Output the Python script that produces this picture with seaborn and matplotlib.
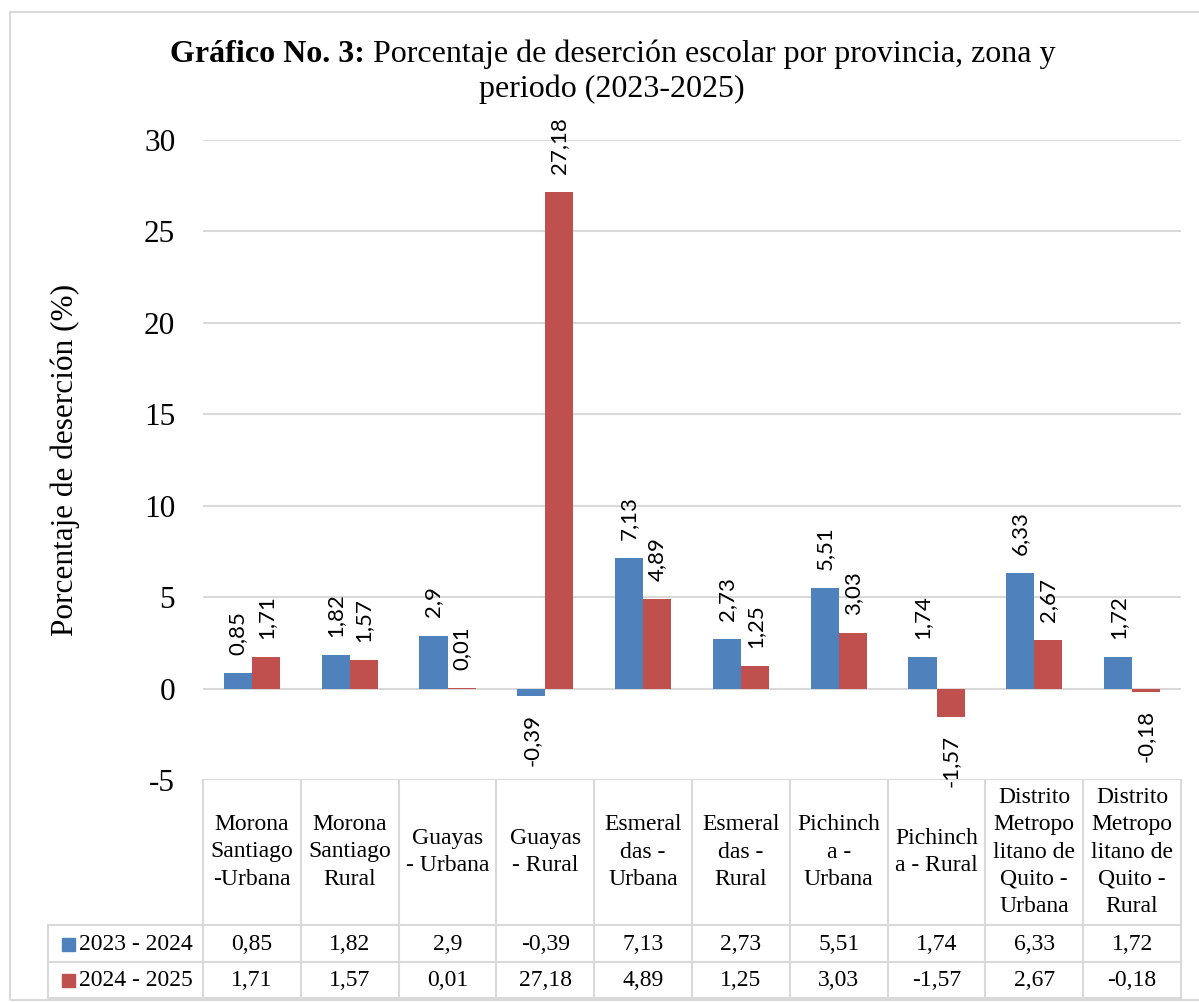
import pandas as pd
import numpy as np
import matplotlib.pyplot as plt
import seaborn as sb
from matplotlib.patches import Rectangle

# Datos del gráfico
categorias = ["Morona\nSantiago\n-Urbana", "Morona\nSantiago\nRural", "Guayas\n- Urbana",
              "Guayas\n- Rural", "Esmeral\ndas -\nUrbana", "Esmeral\ndas -\nRural",
              "Pichinch\na -\nUrbana", "Pichinch\na - Rural",
              "Distrito\nMetropo\nlitano de\nQuito -\nUrbana",
              "Distrito\nMetropo\nlitano de\nQuito -\nRural"]
periodos = ["2023 - 2024", "2024 - 2025"]
valores_2023 = [0.85, 1.82, 2.9, -0.39, 7.13, 2.73, 5.51, 1.74, 6.33, 1.72]
valores_2024 = [1.71, 1.57, 0.01, 27.18, 4.89, 1.25, 3.03, -1.57, 2.67, -0.18]
colores = ["#4F81BD", "#C0504D"]
yticks = [-5, 0, 5, 10, 15, 20, 25, 30]

SERIF = "Liberation Serif"
GRID = "#D9D9D9"


def fmt(v):
    return f"{v:g}".replace(".", ",")


df = pd.DataFrame({
    "cat": categorias * 2,
    "periodo": [periodos[0]] * len(categorias) + [periodos[1]] * len(categorias),
    "valor": valores_2023 + valores_2024,
})

sb.set_style("white")
plt.rcParams["font.family"] = [SERIF, "DejaVu Serif"]
plt.rcParams["text.color"] = "black"
plt.rcParams["axes.labelcolor"] = "black"
plt.rcParams["ytick.color"] = "black"

W, H = 1199, 1002
fig = plt.figure(figsize=(W / 100, H / 100), dpi=100)

# marco exterior
fig.patches.append(Rectangle((10 / W, 1 - 1000 / H), 1.2, (1000 - 12) / H,
                             transform=fig.transFigure, fill=False,
                             edgecolor=GRID, linewidth=1.5))

ax = fig.add_axes([203 / W, 1 - 780 / H, (1181 - 203) / W, (780 - 140) / H])
sb.barplot(data=df, x="cat", y="valor", hue="periodo", order=categorias,
           hue_order=periodos, palette=colores, saturation=1, width=0.575,
           errorbar=None, linewidth=0, legend=False, ax=ax, zorder=3)
ax.set_ylim(-5, 30)
ax.set_xlim(-0.5, len(categorias) - 0.5)
ax.set_yticks(yticks)
ax.set_yticklabels([str(t) for t in yticks], fontsize=22.5, family=SERIF)
ax.tick_params(axis="y", length=0, pad=20)
ax.set_xticks([])
ax.set_xlabel("")
ax.set_ylabel("Porcentaje de deserción (%)", fontsize=22.5, family=SERIF, labelpad=46)
for s in ax.spines.values():
    s.set_visible(False)
for t in yticks:
    ax.axhline(t, color=GRID, linewidth=1.5, zorder=1)

# etiquetas de datos
for cont, vals in zip(ax.containers, [valores_2023, valores_2024]):
    for bar, v in zip(cont, vals):
        xc = bar.get_x() + bar.get_width() / 2
        if v >= 0:
            ax.annotate(fmt(v), (xc, v), xytext=(0, 13), textcoords="offset points",
                        rotation=90, ha="center", va="bottom", fontsize=16,
                        family="Lato", annotation_clip=False)
        else:
            ax.annotate(fmt(v), (xc, v), xytext=(0, -13), textcoords="offset points",
                        rotation=90, ha="center", va="top", fontsize=16,
                        family="Lato", annotation_clip=False)

# tabla de datos
col_px = (1181 - 203) / len(categorias)
xmin = -0.5 - (203 - 48) / col_px
tax = fig.add_axes([48 / W, 1 - 998 / H, (1181 - 48) / W, (998 - 780) / H])
tax.set_xlim(xmin, len(categorias) - 0.5)
tax.set_ylim(218, 0)
tax.axis("off")
lw = 1.5
for k in range(len(categorias) + 1):
    tax.plot([k - 0.5, k - 0.5], [0, 218], color=GRID, lw=lw, clip_on=False)
tax.plot([xmin, xmin], [145, 218], color=GRID, lw=lw, clip_on=False)
for yy in [145, 182, 218]:
    tax.plot([xmin, len(categorias) - 0.5], [yy, yy], color=GRID, lw=lw, clip_on=False)

for i, c in enumerate(categorias):
    tax.text(i, 72, c, ha="center", va="center", fontsize=17, linespacing=1.38)
for r, (per, vals, col) in enumerate(zip(periodos, [valores_2023, valores_2024], colores)):
    yc = 164 + r * 36.5
    tax.add_patch(Rectangle((xmin + 14 / col_px, yc - 6.5), 13 / col_px, 13,
                            color=col, clip_on=False))
    tax.text(xmin + 31 / col_px, yc, per, ha="left", va="center", fontsize=17)
    for i, v in enumerate(vals):
        tax.text(i, yc, fmt(v), ha="center", va="center", fontsize=17)

# título con parte en negrita
t1 = fig.text(170 / W, 1 - 62 / H, "Gráfico No. 3:", fontsize=23, fontweight="bold",
              ha="left", va="baseline")
ax.annotate(" Porcentaje de deserción escolar por provincia, zona y", xy=(1, 0),
            xycoords=t1, fontsize=23, ha="left", va="bottom")
fig.text(612 / W, 1 - 97 / H, "periodo (2023-2025)", fontsize=23, ha="center",
         va="baseline")

fig.savefig("out.png", dpi=100)
